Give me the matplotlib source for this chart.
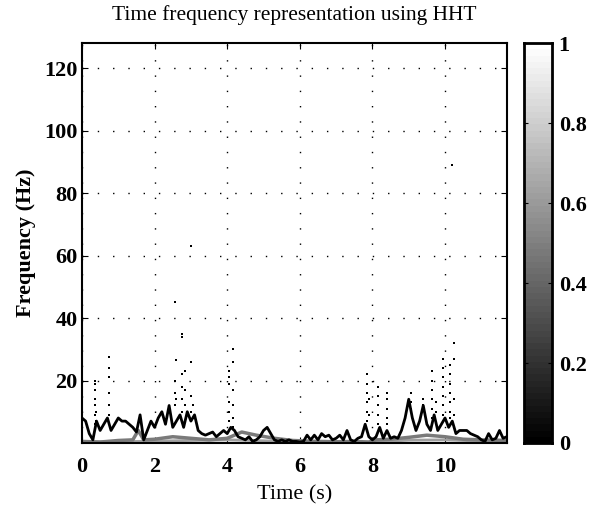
import numpy as np
import matplotlib
matplotlib.use('Agg')
import matplotlib.pyplot as plt

plt.rcParams['font.family'] = ['Liberation Serif', 'DejaVu Serif']

# instantaneous frequency of the main component (0.1 s steps)
t_line = np.round(np.arange(0, 11.75, 0.1), 2)
f_line = [8, 7, 3, 1, 7, 4, 6, 8, 4, 6,
          8, 7, 7, 6, 5, 3.5, 9, 1, 4, 7,
          5, 8, 10, 6, 12, 5, 7, 9, 5, 10,
          7, 9, 4, 3, 2.5, 3, 3.5, 2, 3, 4,
          3, 5, 4, 2, 1.5, 1, 2, 0.5, 1, 2,
          4, 5, 3, 1, 0.5, 1, 0.5, 1, 0.5, 0.5,
          0.3, 0.5, 2.5, 1, 2.5, 1, 3, 2, 2.5, 1,
          1.5, 2.5, 1, 4, 1, 0.5, 1.5, 2, 6, 2,
          1, 2, 5, 1.5, 4, 1.5, 2, 1.5, 4, 8,
          14, 8, 4, 7, 12, 6, 4, 9, 4, 6,
          8, 5, 7, 3, 4, 4, 4, 3, 2.5, 2,
          1, 0.5, 3, 1, 1.5, 4, 1.5, 2]

# slower components (gray)
gray_t = [0, 0.5, 1.0, 1.4, 1.55, 1.7, 2.0, 2.5, 3.0, 3.5, 4.0, 4.4, 4.8, 5.3,
          5.8, 6.5, 7.0, 7.5, 7.9, 8.1, 8.5, 9.0, 9.5, 10.0, 10.5, 11.0, 11.7]
gray_f = [0.5, 0.3, 0.8, 1.0, 4.0, 1.0, 1.2, 2.0, 1.5, 1.0, 1.5, 3.5, 2.5, 1.5,
          0.8, 0.5, 0.4, 0.5, 0.3, 1.0, 1.2, 1.8, 2.5, 2.0, 1.2, 1.0, 0.8]
gray2_t = [0, 1.0, 2.0, 3.0, 4.0, 5.0, 6.0, 7.0, 8.0, 9.0, 10.0, 11.0, 11.7]
gray2_f = [0.3, 0.4, 0.6, 0.8, 1.0, 0.7, 0.3, 0.2, 0.3, 0.9, 1.0, 0.6, 0.4]

# scattered high-frequency points
dot_t = [0.35] * 8 + [0.38] * 2 + [0.75] * 6 + [2.55] * 4 + [2.6] * 2 + \
        [2.75] * 6 + [2.85] * 3 + [3.0] * 4 + [3.05] * 2 + [4.05] * 6 + \
        [4.15] * 6 + [7.85] * 6 + [7.9] * 2 + [8.15] * 5 + [8.4] * 5 + \
        [9.05] * 3 + [9.4] * 2 + [9.65] * 6 + [9.75] * 2 + [9.95] * 7 + \
        [10.15] * 7 + [10.25] * 4 + [10.2]
dot_f = [4, 6, 9, 12, 14, 17, 19, 20, 7, 10,
         9, 12, 16, 21, 24, 27.5,
         12, 16, 20, 45, 14, 26.6,
         10, 14, 18, 22, 34, 35, 12, 17, 23,
         10, 15, 26, 63, 8, 12,
         7, 10, 13, 19, 21, 23,
         5, 8, 12, 17, 26, 30,
         7, 10, 13, 16, 19, 22, 9, 14,
         6, 9, 12, 15, 18, 6, 8, 11, 14, 16,
         11, 13, 16, 12, 14,
         8, 11, 14, 17, 20, 23, 10, 13,
         9, 12, 15, 18, 21, 24, 27,
         8, 10, 13, 16, 19, 22, 25,
         9, 14, 27, 32, 89]

fig = plt.figure(figsize=(5.92, 5.08), dpi=100)
ax = fig.add_axes([0.1385, 0.128, 0.7175, 0.787])
cax = fig.add_axes([0.885, 0.128, 0.047, 0.787])

ax.plot(gray2_t, gray2_f, color='#a0a0a0', lw=2)
ax.plot(gray_t, gray_f, color='#7a7a7a', lw=2.5)
ax.plot(t_line, f_line, color='black', lw=2)
ax.plot(dot_t, dot_f, 's', color='black', ms=1.8, mew=0)

ax.set_xlim(0, 11.7)
ax.set_ylim(0, 128)
ax.set_xticks([0, 2, 4, 6, 8, 10])
ax.set_yticks([20, 40, 60, 80, 100, 120])
ax.grid(True, color='black', linestyle=(0, (1, 10)), linewidth=1)
ax.tick_params(direction='in', top=True, right=True, length=4, labelsize=16)
ax.tick_params(axis='x', pad=10)
ax.tick_params(axis='y', pad=3)
for lab in ax.get_xticklabels() + ax.get_yticklabels():
    lab.set_fontweight('bold')
for s in ax.spines.values():
    s.set_linewidth(1.5)

ax.set_title('Time frequency representation using HHT', fontsize=15.5, pad=17)
ax.set_xlabel('Time (s)', fontsize=16, labelpad=6)
ax.set_ylabel('Frequency (Hz)', fontsize=16, fontweight='bold', labelpad=6)

grad = np.linspace(0, 1, 64).reshape(-1, 1)
cax.imshow(grad, cmap='gray', aspect='auto', origin='lower', extent=[0, 1, 0, 1])
cax.set_xticks([])
cax.yaxis.tick_right()
cax.set_yticks([0, 0.2, 0.4, 0.6, 0.8, 1])
cax.set_yticklabels(['0', '0.2', '0.4', '0.6', '0.8', '1'])
cax.tick_params(direction='in', length=3, labelsize=16, left=True, pad=5)
for lab in cax.get_yticklabels():
    lab.set_fontweight('bold')
for s in cax.spines.values():
    s.set_linewidth(2)

fig.savefig('out.png', dpi=100)
